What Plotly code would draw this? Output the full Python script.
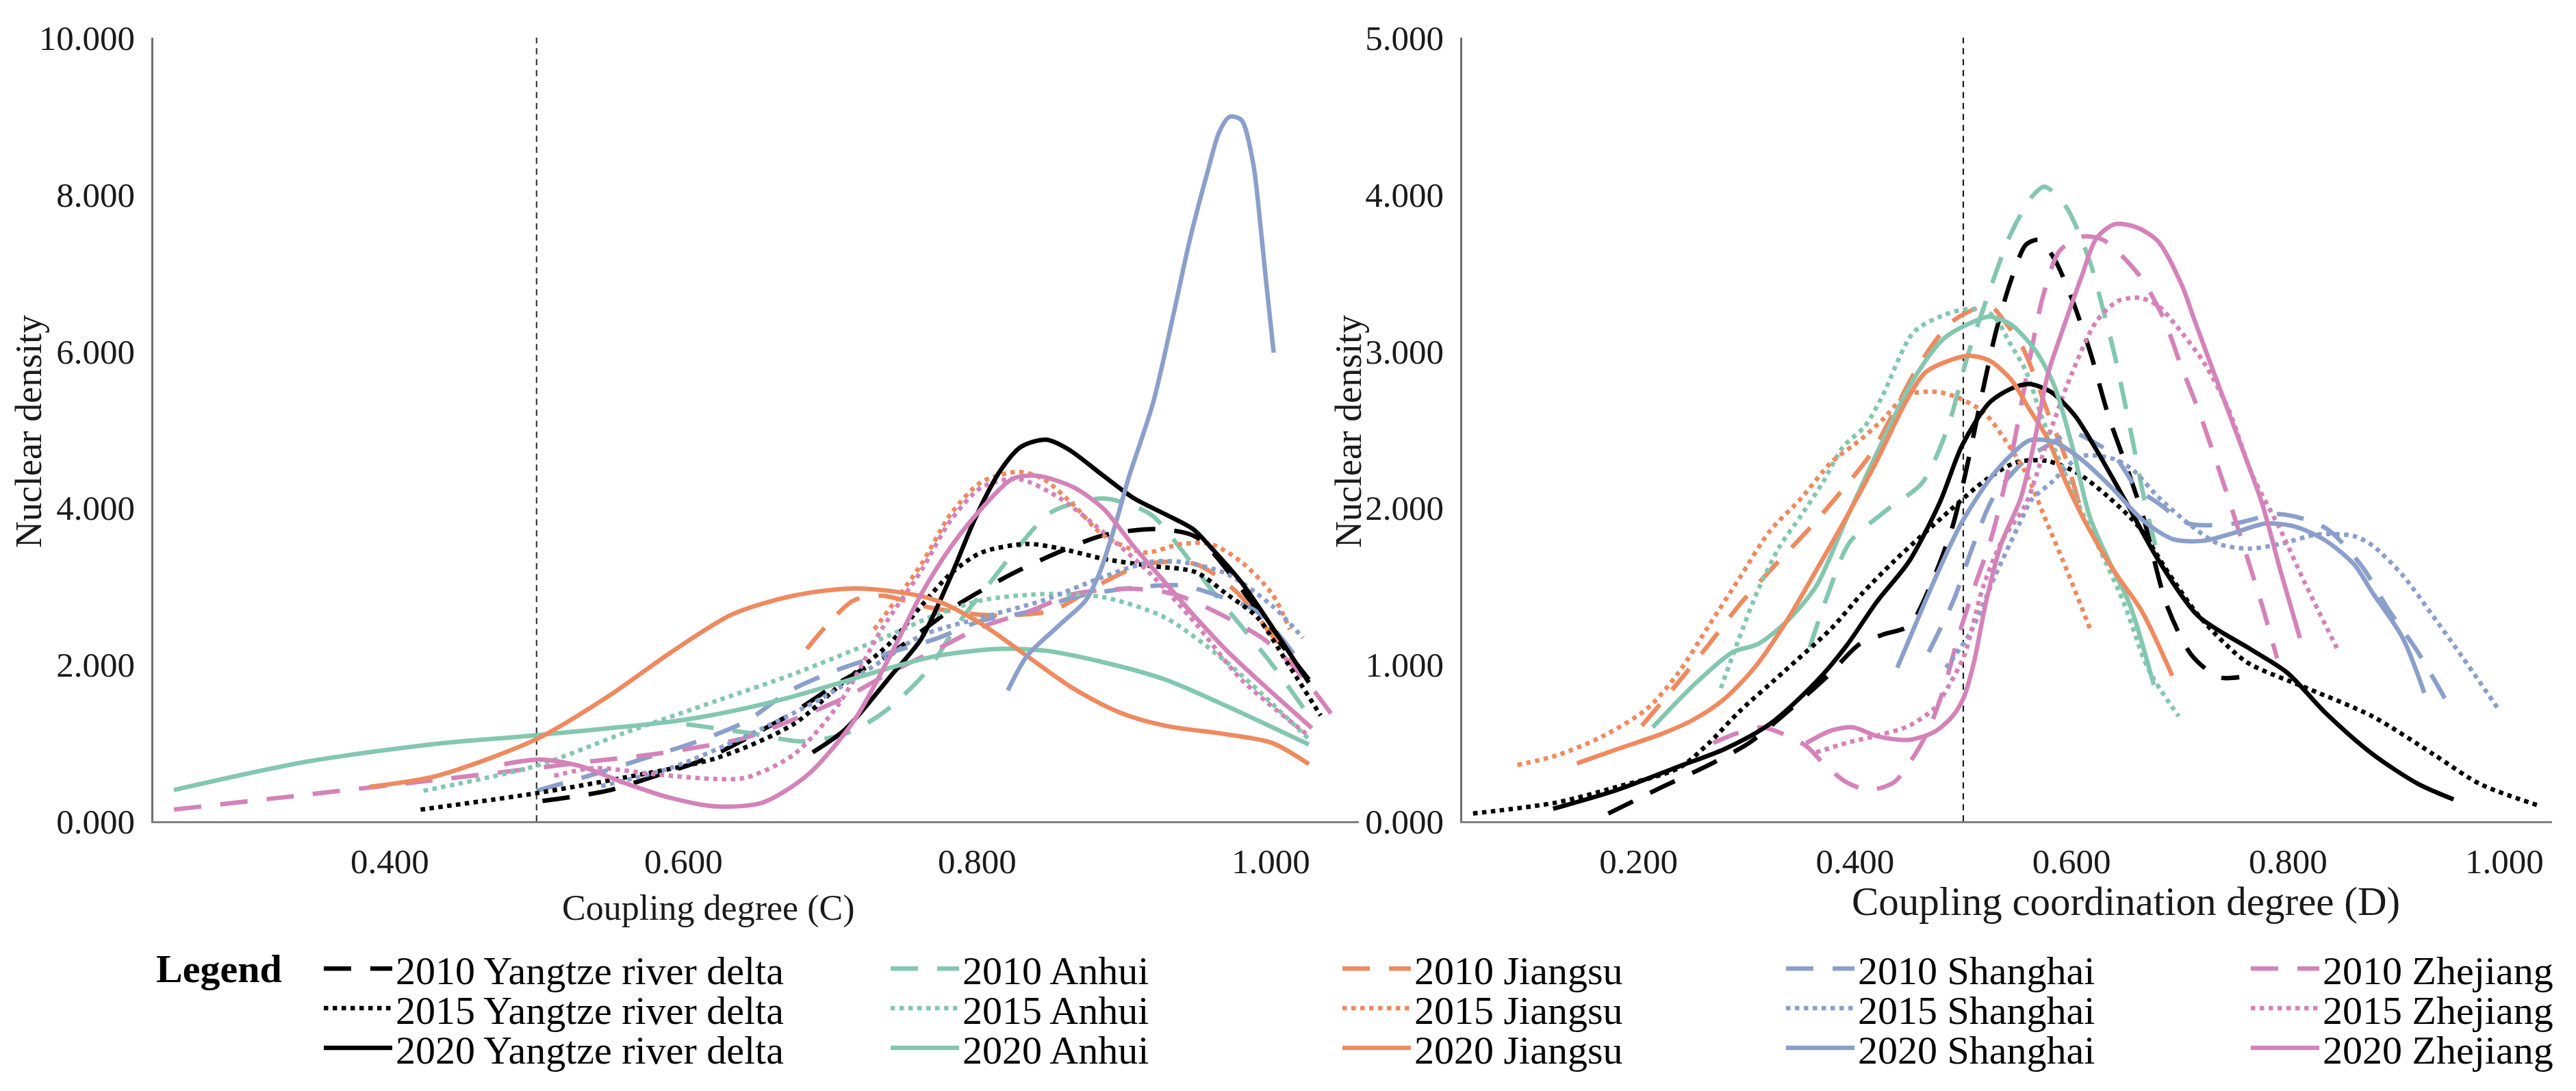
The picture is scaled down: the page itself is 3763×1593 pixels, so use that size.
import plotly.graph_objects as go

REGIONS = ["Yangtze river delta", "Anhui", "Jiangsu", "Shanghai", "Zhejiang"]
YEARS = ["2010", "2015", "2020"]
COLORS = {"Yangtze river delta": "#000000", "Anhui": "#84C7AF", "Jiangsu": "#EE8A60",
          "Shanghai": "#8B9FCA", "Zhejiang": "#D483B9"}
DASHES = {"2010": "40px,28px", "2015": "dot", "2020": "solid"}
THRESHOLD = 0.5

C_TICKS = [0.4, 0.6, 0.8, 1.0]
D_TICKS = [0.2, 0.4, 0.6, 0.8, 1.0]

# ---------------- Coupling degree (C) ----------------
C_YRD_2010_X = [0.504, 0.548, 0.581, 0.614, 0.646, 0.675, 0.706, 0.74, 0.766, 0.789, 0.824, 0.855, 0.886, 0.922, 0.949, 0.974, 1.001, 1.026]
C_YRD_2010_Y = [0.26, 0.39, 0.58, 0.79, 1.09, 1.39, 1.77, 2.13, 2.48, 2.79, 3.16, 3.43, 3.65, 3.73, 3.63, 3.12, 2.41, 1.81]
C_YRD_2015_X = [0.421, 0.46, 0.5, 0.56, 0.623, 0.675, 0.706, 0.741, 0.762, 0.782, 0.803, 0.834, 0.857, 0.886, 0.918, 0.949, 0.97, 0.991, 1.011, 1.034]
C_YRD_2015_Y = [0.15, 0.25, 0.36, 0.56, 0.81, 1.24, 1.73, 2.28, 2.75, 3.16, 3.43, 3.54, 3.48, 3.35, 3.26, 3.18, 2.90, 2.60, 2.03, 1.35]
C_YRD_2020_X = [0.688, 0.71, 0.741, 0.762, 0.782, 0.799, 0.816, 0.83, 0.847, 0.862, 0.886, 0.907, 0.928, 0.947, 0.959, 0.98, 1.001, 1.026]
C_YRD_2020_Y = [0.88, 1.17, 1.85, 2.33, 3.12, 3.88, 4.48, 4.78, 4.87, 4.75, 4.41, 4.12, 3.92, 3.73, 3.50, 3.05, 2.48, 1.77]

C_AH_2010_X = [0.602, 0.644, 0.681, 0.712, 0.737, 0.766, 0.787, 0.809, 0.828, 0.851, 0.886, 0.918, 0.939, 0.959, 0.98, 1.001, 1.026]
C_AH_2010_Y = [1.24, 1.13, 1.02, 1.13, 1.40, 1.92, 2.52, 3.05, 3.50, 3.95, 4.12, 3.92, 3.47, 2.97, 2.49, 2.00, 1.35]
C_AH_2015_X = [0.423, 0.5, 0.56, 0.623, 0.675, 0.741, 0.77, 0.803, 0.845, 0.886, 0.928, 0.97, 1.026]
C_AH_2015_Y = [0.39, 0.71, 1.13, 1.54, 1.88, 2.38, 2.62, 2.82, 2.90, 2.86, 2.60, 2.03, 1.05]
C_AH_2020_X = [0.253, 0.343, 0.432, 0.5, 0.602, 0.664, 0.741, 0.772, 0.814, 0.845, 0.886, 0.928, 0.97, 1.026]
C_AH_2020_Y = [0.40, 0.76, 0.99, 1.10, 1.30, 1.54, 1.96, 2.11, 2.20, 2.18, 2.03, 1.81, 1.47, 0.98]

C_JS_2010_X = [0.684, 0.70, 0.716, 0.735, 0.77, 0.809, 0.851, 0.882, 0.914, 0.949, 0.976, 1.001, 1.02]
C_JS_2010_Y = [2.20, 2.55, 2.82, 2.88, 2.72, 2.63, 2.69, 3.01, 3.28, 3.28, 2.94, 2.37, 1.90]
C_JS_2015_X = [0.73, 0.762, 0.782, 0.803, 0.828, 0.845, 0.866, 0.886, 0.914, 0.939, 0.959, 0.98, 1.001, 1.013]
C_JS_2015_Y = [2.45, 3.28, 3.92, 4.33, 4.46, 4.37, 4.03, 3.65, 3.43, 3.54, 3.54, 3.31, 2.90, 2.45]
C_JS_2020_X = [0.386, 0.432, 0.5, 0.55, 0.591, 0.633, 0.675, 0.712, 0.741, 0.772, 0.803, 0.834, 0.866, 0.897, 0.928, 0.97, 1.001, 1.026]
C_JS_2020_Y = [0.44, 0.58, 1.05, 1.61, 2.15, 2.64, 2.88, 2.97, 2.94, 2.82, 2.52, 2.11, 1.69, 1.39, 1.22, 1.11, 1.00, 0.73]

C_SH_2010_X = [0.5, 0.539, 0.571, 0.608, 0.643, 0.672, 0.706, 0.74, 0.772, 0.803, 0.834, 0.866, 0.901, 0.939, 0.97, 0.991, 1.02]
C_SH_2010_Y = [0.39, 0.60, 0.79, 1.01, 1.28, 1.66, 1.94, 2.15, 2.33, 2.56, 2.67, 2.86, 2.97, 3.01, 2.84, 2.67, 2.03]
C_SH_2015_X = [0.544, 0.591, 0.643, 0.695, 0.737, 0.762, 0.803, 0.845, 0.886, 0.918, 0.939, 0.97, 1.001, 1.022]
C_SH_2015_Y = [0.45, 0.68, 1.09, 1.58, 2.07, 2.37, 2.60, 2.82, 3.12, 3.31, 3.31, 3.16, 2.75, 2.34]
C_SH_2020_X = [0.821, 0.834, 0.857, 0.874, 0.884, 0.895, 0.903, 0.92, 0.934, 0.945, 0.957, 0.965, 0.972, 0.98, 0.988, 0.993, 0.997, 1.002]
C_SH_2020_Y = [1.67, 2.11, 2.52, 2.82, 3.20, 3.84, 4.37, 5.35, 6.49, 7.43, 8.29, 8.80, 8.99, 8.95, 8.40, 7.60, 6.86, 5.98]

C_ZJ_2010_X = [0.253, 0.343, 0.432, 0.5, 0.539, 0.577, 0.608, 0.643, 0.675, 0.71, 0.741, 0.768, 0.803, 0.834, 0.866, 0.903, 0.934, 0.966, 0.997, 1.022, 1.047]
C_ZJ_2010_Y = [0.15, 0.34, 0.53, 0.68, 0.77, 0.85, 0.94, 1.07, 1.30, 1.58, 1.90, 2.15, 2.48, 2.67, 2.90, 2.97, 2.90, 2.64, 2.30, 1.84, 1.22]
C_ZJ_2015_X = [0.512, 0.539, 0.581, 0.623, 0.643, 0.675, 0.706, 0.735, 0.762, 0.782, 0.803, 0.828, 0.855, 0.886, 0.918, 0.949, 0.98, 1.026]
C_ZJ_2015_Y = [0.58, 0.68, 0.60, 0.54, 0.56, 0.85, 1.50, 2.45, 3.20, 3.84, 4.26, 4.37, 4.14, 3.69, 3.16, 2.52, 1.81, 1.09]
C_ZJ_2020_X = [0.478, 0.502, 0.529, 0.56, 0.591, 0.623, 0.654, 0.685, 0.716, 0.741, 0.762, 0.782, 0.803, 0.824, 0.841, 0.866, 0.886, 0.907, 0.928, 0.949, 0.97, 0.991, 1.028]
C_ZJ_2020_Y = [0.73, 0.79, 0.71, 0.49, 0.30, 0.19, 0.24, 0.60, 1.28, 2.12, 2.90, 3.50, 3.99, 4.37, 4.41, 4.26, 3.99, 3.50, 3.05, 2.60, 2.18, 1.81, 1.19]

# ---------------- Coupling coordination degree (D) ----------------
D_YRD_2010_X = [0.172, 0.222, 0.265, 0.302, 0.341, 0.375, 0.404, 0.425, 0.45, 0.473, 0.49, 0.502, 0.519, 0.530, 0.544, 0.558, 0.570, 0.584, 0.600, 0.617, 0.634, 0.652, 0.666, 0.688, 0.711, 0.736, 0.755]
D_YRD_2010_Y = [0.05, 0.22, 0.36, 0.50, 0.72, 0.93, 1.13, 1.19, 1.25, 1.56, 1.88, 2.22, 2.78, 3.12, 3.45, 3.68, 3.71, 3.59, 3.34, 3.00, 2.59, 2.24, 1.95, 1.38, 1.06, 0.92, 0.92]
D_YRD_2015_X = [0.047, 0.124, 0.18, 0.237, 0.265, 0.293, 0.335, 0.378, 0.406, 0.436, 0.487, 0.521, 0.549, 0.577, 0.606, 0.634, 0.662, 0.69, 0.719, 0.761, 0.803, 0.821, 0.878, 0.934, 0.977, 1.032]
D_YRD_2015_Y = [0.05, 0.12, 0.22, 0.34, 0.50, 0.70, 0.96, 1.23, 1.45, 1.66, 1.98, 2.18, 2.29, 2.30, 2.22, 2.07, 1.88, 1.58, 1.30, 1.02, 0.89, 0.84, 0.67, 0.43, 0.24, 0.10]
D_YRD_2020_X = [0.121, 0.18, 0.237, 0.279, 0.321, 0.364, 0.392, 0.42, 0.45, 0.478, 0.499, 0.524, 0.544, 0.561, 0.581, 0.603, 0.623, 0.651, 0.68, 0.717, 0.765, 0.799, 0.835, 0.878, 0.92, 0.953]
D_YRD_2020_Y = [0.08, 0.20, 0.35, 0.46, 0.62, 0.89, 1.12, 1.40, 1.66, 2.03, 2.40, 2.67, 2.76, 2.79, 2.74, 2.59, 2.37, 2.03, 1.67, 1.31, 1.10, 0.95, 0.69, 0.43, 0.24, 0.14]

D_AH_2010_X = [0.358, 0.375, 0.395, 0.43, 0.462, 0.485, 0.504, 0.524, 0.544, 0.564, 0.575, 0.595, 0.617, 0.629, 0.640, 0.657, 0.668, 0.68]
D_AH_2010_Y = [1.11, 1.45, 1.78, 1.99, 2.16, 2.50, 2.97, 3.38, 3.75, 3.99, 4.05, 3.92, 3.57, 3.27, 2.97, 2.41, 2.03, 1.69]
D_AH_2015_X = [0.276, 0.293, 0.31, 0.33, 0.35, 0.37, 0.389, 0.409, 0.425, 0.454, 0.482, 0.507, 0.527, 0.544, 0.558, 0.572, 0.586, 0.606, 0.625, 0.648, 0.671, 0.699]
D_AH_2015_Y = [0.85, 1.17, 1.47, 1.75, 1.95, 2.16, 2.39, 2.52, 2.71, 3.12, 3.23, 3.27, 3.23, 3.04, 2.87, 2.59, 2.35, 2.03, 1.75, 1.40, 0.97, 0.67]
D_AH_2020_X = [0.213, 0.251, 0.287, 0.31, 0.336, 0.364, 0.392, 0.425, 0.454, 0.482, 0.51, 0.524, 0.544, 0.567, 0.584, 0.600, 0.617, 0.634, 0.654, 0.676]
D_AH_2020_Y = [0.60, 0.87, 1.08, 1.13, 1.27, 1.50, 1.93, 2.42, 2.82, 3.08, 3.19, 3.22, 3.17, 3.00, 2.78, 2.41, 1.94, 1.67, 1.38, 0.87]

D_JS_2010_X = [0.203, 0.237, 0.265, 0.293, 0.324, 0.358, 0.389, 0.416, 0.459, 0.49, 0.524, 0.538, 0.555, 0.567, 0.578, 0.595, 0.61]
D_JS_2010_Y = [0.61, 0.89, 1.13, 1.38, 1.62, 1.87, 2.12, 2.36, 2.91, 3.19, 3.29, 3.19, 3.02, 2.82, 2.61, 2.31, 1.95]
D_JS_2015_X = [0.088, 0.124, 0.166, 0.208, 0.237, 0.265, 0.293, 0.321, 0.35, 0.378, 0.406, 0.425, 0.448, 0.476, 0.496, 0.519, 0.538, 0.558, 0.577, 0.597, 0.617]
D_JS_2015_Y = [0.36, 0.42, 0.54, 0.72, 0.95, 1.25, 1.55, 1.85, 2.06, 2.29, 2.44, 2.56, 2.72, 2.74, 2.70, 2.61, 2.44, 2.22, 1.91, 1.58, 1.23]
D_JS_2020_X = [0.143, 0.18, 0.222, 0.251, 0.279, 0.307, 0.336, 0.364, 0.392, 0.42, 0.448, 0.466, 0.504, 0.524, 0.544, 0.561, 0.578, 0.595, 0.615, 0.639, 0.665, 0.693]
D_JS_2020_Y = [0.37, 0.46, 0.56, 0.65, 0.78, 0.98, 1.27, 1.60, 1.94, 2.30, 2.69, 2.87, 2.97, 2.94, 2.82, 2.63, 2.44, 2.16, 1.88, 1.60, 1.34, 0.93]

D_SH_2010_X = [0.468, 0.491, 0.508, 0.528, 0.558, 0.581, 0.600, 0.623, 0.640, 0.660, 0.680, 0.708, 0.750, 0.793, 0.835, 0.868, 0.892, 0.920, 0.947]
D_SH_2010_Y = [1.08, 1.41, 1.74, 2.07, 2.31, 2.41, 2.48, 2.41, 2.33, 2.13, 2.03, 1.90, 1.90, 1.96, 1.87, 1.63, 1.36, 1.08, 0.76]
D_SH_2015_X = [0.484, 0.507, 0.529, 0.552, 0.563, 0.581, 0.609, 0.640, 0.657, 0.680, 0.708, 0.736, 0.764, 0.793, 0.827, 0.861, 0.878, 0.906, 0.934, 0.962, 0.994]
D_SH_2015_Y = [0.98, 1.21, 1.56, 1.90, 2.05, 2.16, 2.33, 2.31, 2.24, 2.07, 1.90, 1.77, 1.74, 1.77, 1.83, 1.82, 1.76, 1.57, 1.31, 1.04, 0.72]
D_SH_2020_X = [0.439, 0.476, 0.498, 0.524, 0.543, 0.561, 0.584, 0.609, 0.637, 0.666, 0.694, 0.722, 0.750, 0.779, 0.807, 0.835, 0.861, 0.878, 0.906, 0.926]
D_SH_2020_Y = [0.98, 1.58, 1.90, 2.18, 2.33, 2.43, 2.42, 2.31, 2.13, 1.92, 1.80, 1.79, 1.84, 1.90, 1.88, 1.79, 1.64, 1.46, 1.17, 0.82]

D_ZJ_2010_X = [0.269, 0.29, 0.314, 0.336, 0.355, 0.372, 0.392, 0.413, 0.436, 0.45, 0.467, 0.483, 0.495, 0.51, 0.526, 0.545, 0.56, 0.574, 0.589, 0.609, 0.629, 0.663, 0.685, 0.701, 0.718, 0.732, 0.746, 0.762, 0.776, 0.79]
D_ZJ_2010_Y = [0.50, 0.56, 0.60, 0.55, 0.48, 0.36, 0.25, 0.20, 0.25, 0.37, 0.57, 0.87, 1.17, 1.49, 1.81, 2.35, 2.90, 3.36, 3.64, 3.73, 3.71, 3.48, 3.21, 2.91, 2.61, 2.33, 2.04, 1.69, 1.38, 1.04]
D_ZJ_2015_X = [0.364, 0.392, 0.422, 0.45, 0.473, 0.487, 0.501, 0.518, 0.535, 0.558, 0.581, 0.601, 0.623, 0.643, 0.663, 0.68, 0.697, 0.722, 0.745, 0.767, 0.793, 0.815, 0.847]
D_ZJ_2015_Y = [0.44, 0.50, 0.55, 0.61, 0.72, 0.87, 1.06, 1.49, 1.78, 2.03, 2.50, 2.87, 3.19, 3.32, 3.34, 3.29, 3.16, 2.93, 2.63, 2.21, 1.86, 1.53, 1.08]
D_ZJ_2020_X = [0.355, 0.378, 0.398, 0.422, 0.45, 0.473, 0.49, 0.501, 0.51, 0.521, 0.535, 0.553, 0.565, 0.578, 0.59, 0.609, 0.623, 0.64, 0.66, 0.68, 0.702, 0.714, 0.736, 0.756, 0.776, 0.793, 0.811]
D_ZJ_2020_Y = [0.50, 0.58, 0.60, 0.54, 0.52, 0.57, 0.67, 0.80, 1.02, 1.40, 1.77, 2.06, 2.40, 2.85, 3.10, 3.47, 3.72, 3.81, 3.79, 3.70, 3.42, 3.19, 2.78, 2.41, 2.03, 1.60, 1.17]

C_DATA = {
    ("Yangtze river delta", "2010"): (C_YRD_2010_X, C_YRD_2010_Y),
    ("Yangtze river delta", "2015"): (C_YRD_2015_X, C_YRD_2015_Y),
    ("Yangtze river delta", "2020"): (C_YRD_2020_X, C_YRD_2020_Y),
    ("Anhui", "2010"): (C_AH_2010_X, C_AH_2010_Y),
    ("Anhui", "2015"): (C_AH_2015_X, C_AH_2015_Y),
    ("Anhui", "2020"): (C_AH_2020_X, C_AH_2020_Y),
    ("Jiangsu", "2010"): (C_JS_2010_X, C_JS_2010_Y),
    ("Jiangsu", "2015"): (C_JS_2015_X, C_JS_2015_Y),
    ("Jiangsu", "2020"): (C_JS_2020_X, C_JS_2020_Y),
    ("Shanghai", "2010"): (C_SH_2010_X, C_SH_2010_Y),
    ("Shanghai", "2015"): (C_SH_2015_X, C_SH_2015_Y),
    ("Shanghai", "2020"): (C_SH_2020_X, C_SH_2020_Y),
    ("Zhejiang", "2010"): (C_ZJ_2010_X, C_ZJ_2010_Y),
    ("Zhejiang", "2015"): (C_ZJ_2015_X, C_ZJ_2015_Y),
    ("Zhejiang", "2020"): (C_ZJ_2020_X, C_ZJ_2020_Y),
}
D_DATA = {
    ("Yangtze river delta", "2010"): (D_YRD_2010_X, D_YRD_2010_Y),
    ("Yangtze river delta", "2015"): (D_YRD_2015_X, D_YRD_2015_Y),
    ("Yangtze river delta", "2020"): (D_YRD_2020_X, D_YRD_2020_Y),
    ("Anhui", "2010"): (D_AH_2010_X, D_AH_2010_Y),
    ("Anhui", "2015"): (D_AH_2015_X, D_AH_2015_Y),
    ("Anhui", "2020"): (D_AH_2020_X, D_AH_2020_Y),
    ("Jiangsu", "2010"): (D_JS_2010_X, D_JS_2010_Y),
    ("Jiangsu", "2015"): (D_JS_2015_X, D_JS_2015_Y),
    ("Jiangsu", "2020"): (D_JS_2020_X, D_JS_2020_Y),
    ("Shanghai", "2010"): (D_SH_2010_X, D_SH_2010_Y),
    ("Shanghai", "2015"): (D_SH_2015_X, D_SH_2015_Y),
    ("Shanghai", "2020"): (D_SH_2020_X, D_SH_2020_Y),
    ("Zhejiang", "2010"): (D_ZJ_2010_X, D_ZJ_2010_Y),
    ("Zhejiang", "2015"): (D_ZJ_2015_X, D_ZJ_2015_Y),
    ("Zhejiang", "2020"): (D_ZJ_2020_X, D_ZJ_2020_Y),
}

W, H = 3763, 1593
FONT = "Liberation Serif"
LW = 6.5

def px(xp):
    return xp / W

def py(yp):
    return 1 - yp / H

fig = go.Figure()

# threshold reference lines
fig.add_trace(go.Scatter(x=[THRESHOLD, THRESHOLD], y=[0, 10], mode="lines", xaxis="x", yaxis="y",
                         line=dict(color="#3a3a3a", width=2.2, dash="9px,7px"), showlegend=False, hoverinfo="skip"))
fig.add_trace(go.Scatter(x=[THRESHOLD, THRESHOLD], y=[0, 5], mode="lines", xaxis="x2", yaxis="y2",
                         line=dict(color="#1a1a1a", width=2.2, dash="9px,7px"), showlegend=False, hoverinfo="skip"))

# legend positions (one legend per item, 5 columns x 3 rows)
COL_X = [468, 1296, 1956, 2604, 3283]
ROW_Y = [1438, 1498, 1558]

legend_layouts = {}
k = 0
for r, year in enumerate(YEARS):
    for c, region in enumerate(REGIONS):
        k += 1
        lname = "legend" if k == 1 else f"legend{k}"
        legend_layouts[lname] = dict(
            x=px(COL_X[c]), y=py(ROW_Y[r]), xanchor="left", yanchor="middle",
            orientation="v", bgcolor="rgba(0,0,0,0)", borderwidth=0,
            font=dict(family=FONT, size=58, color="#000000"), itemwidth=100,
        )
        name = f"{year} {region}"
        style = dict(color=COLORS[region], width=LW, dash=DASHES[year])
        cx, cy = C_DATA[(region, year)]
        dx, dy = D_DATA[(region, year)]
        fig.add_trace(go.Scatter(x=cx, y=cy, mode="lines", line=dict(shape="spline", smoothing=0.8, **style),
                                 name=name, legend=lname, legendgroup=name, xaxis="x", yaxis="y"))
        fig.add_trace(go.Scatter(x=dx, y=dy, mode="lines", line=dict(shape="spline", smoothing=0.8, **style),
                                 name=name, legend=lname, legendgroup=name, showlegend=False, xaxis="x2", yaxis="y2"))

tickfont = dict(family=FONT, size=51, color="#1a1a1a")
common_x = dict(showline=True, linecolor="#808080", linewidth=3, ticks="", showgrid=False, zeroline=False,
                tickformat=".3f", tickfont=tickfont, ticklabelstandoff=12, fixedrange=True)
common_y = dict(showline=True, linecolor="#6e6e6e", linewidth=2.5, ticks="", showgrid=False, zeroline=False,
                tickformat=".3f", tickfont=tickfont, ticklabelstandoff=14, fixedrange=True)

YDOM = [py(1215), py(29)]

layout = dict(
    width=W, height=H, margin=dict(l=0, r=0, t=0, b=0),
    paper_bgcolor="white", plot_bgcolor="white",
    xaxis=dict(domain=[px(224), px(1985)], range=[0.239, 1.060], tickvals=C_TICKS, anchor="y", **common_x),
    yaxis=dict(domain=YDOM, range=[0, 10], dtick=2, anchor="x", **common_y),
    xaxis2=dict(domain=[px(2136), px(3728)], range=[0.037, 1.044], tickvals=D_TICKS, anchor="y2", **common_x),
    yaxis2=dict(domain=YDOM, range=[0, 5], dtick=1, anchor="x2", **common_y),
    annotations=[
        dict(text="Coupling degree (C)", x=px(1034), y=py(1346), xref="paper", yref="paper",
             showarrow=False, xanchor="center", yanchor="middle", font=dict(family=FONT, size=52, color="#1a1a1a")),
        dict(text="Coupling coordination degree (D)", x=px(3105), y=py(1336), xref="paper", yref="paper",
             showarrow=False, xanchor="center", yanchor="middle", font=dict(family=FONT, size=59, color="#1a1a1a")),
        dict(text="Nuclear density", x=px(42), y=py(625), xref="paper", yref="paper", textangle=-90,
             showarrow=False, xanchor="center", yanchor="middle", font=dict(family=FONT, size=54, color="#1a1a1a")),
        dict(text="Nuclear density", x=px(1970), y=py(625), xref="paper", yref="paper", textangle=-90,
             showarrow=False, xanchor="center", yanchor="middle", font=dict(family=FONT, size=54, color="#1a1a1a")),
        dict(text="<b>Legend</b>", x=px(320), y=py(1438), xref="paper", yref="paper",
             showarrow=False, xanchor="center", yanchor="middle", font=dict(family=FONT, size=58, color="#000000")),
    ],
)
layout.update(legend_layouts)
fig.update_layout(**layout)

fig.write_html("out.html", config={"displayModeBar": False},
               post_script="document.body.style.margin='0';document.body.style.overflow='hidden';")
